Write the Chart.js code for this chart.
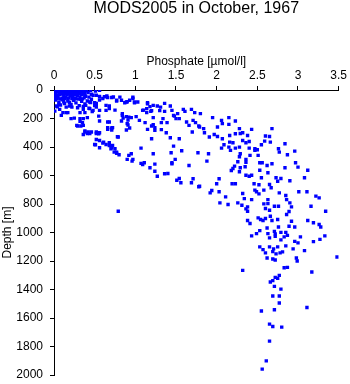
<!DOCTYPE html>
<html>
<head>
<meta charset="utf-8">
<script src="https://cdn.jsdelivr.net/npm/chart.js@4"></script>
<style>
  html, body { margin: 0; padding: 0; background: #fff; }
</style>
</head>
<body>
<canvas id="chart" width="350" height="384"></canvas>
<script>
const chartTitle = 'MODS2005 in October, 1967';
const xTitle = 'Phosphate [µmol/l]';
const yTitle = 'Depth [m]';
const xTickLabels = ['0', '0.5', '1', '1.5', '2', '2.5', '3', '3.5'];
const yTickLabels = ['0', '200', '400', '600', '800', '1000', '1200', '1400', '1600', '1800', '2000'];

// phosphate [umol/l], one value per sample
const phosphate = [
  // surface layer
  0.01,0.04,0.08,0.11,0.15,0.19,0.22,0.26,0.30,0.33,0.36,0.40,0.45,0.51,0.56,
  0.03,0.07,0.12,0.16,0.20,0.24,0.28,0.33,0.37,
  0.02,0.06,0.09,0.13,0.17,0.21,0.24,0.28,0.31,0.35,0.42,0.38,
  0.02,0.09,0.14,0.19,0.23,0.27,0.31,0.35,
  0.00,0.03,0.07,0.12,0.16,0.20,0.25,0.29,0.34,0.38,0.46,0.48,0.52,
  0.01,0.05,0.10,0.14,0.18,0.23,0.27,0.32,0.37,0.43,0.39,0.56,0.65,0.71,0.66,0.73,0.62,0.81,0.97,
  0.04,0.08,0.13,0.17,0.22,0.26,0.30,0.35,
  0.02,0.06,0.10,0.13,0.17,0.21,0.24,0.27,0.31,0.34,0.38,0.41,0.45,0.46,0.50,0.52,
  0.04,0.08,0.15,0.19,0.29,0.36,0.43,0.50,0.03,0.19,0.12,0.25,0.33,0.06,0.22,0.39,
  0.01,0.07,0.11,0.15,0.17,0.09,0.36,0.38,0.32,0.47,0.44,0.55,0.21,0.25,0.32,0.36,0.41,
  // upper nutricline
  0.56,0.52,0.60,0.77,0.83,0.89,0.93,0.97,0.99,1.03,
  0.99,0.87,0.77,0.90,1.15,1.15,1.22,1.36,0.64,0.68,
  0.68,0.56,0.48,0.52,0.44,0.64,0.75,0.84,1.09,1.14,
  1.10,1.14,1.18,1.20,0.84,0.85,0.92,0.95,1.01,0.91,
  0.89,0.83,1.05,0.66,0.56,0.68,0.71,0.90,0.93,0.91,
  1.12,1.15,1.20,1.24,1.32,1.39,1.38,
  // left branch
  0.28,0.32,0.35,0.36,0.29,0.33,0.38,0.38,0.42,0.46,
  0.52,0.55,0.44,0.41,0.52,0.56,0.36,0.66,0.72,0.66,
  0.71,0.89,0.78,0.79,0.52,0.56,0.61,0.60,0.68,0.51,
  0.50,0.64,0.68,0.72,0.56,0.71,0.70,0.75,0.77,0.74,
  0.77,0.80,0.92,0.90,0.96,0.97,0.95,1.07,1.07,1.09,
  1.11,1.18,1.22,1.24,1.24,1.27,1.36,1.40,1.44,1.45,
  1.57,1.51,1.54,1.56,1.66,1.71,1.69,1.77,1.78,0.79,
  1.43,1.47,1.49,1.45,
  // middle
  1.19,1.22,1.22,1.24,1.32,1.34,1.31,1.36,1.43,1.45,
  1.47,1.50,1.54,1.52,1.59,1.61,1.63,1.66,1.69,1.70,
  1.71,1.74,1.80,1.79,1.84,1.85,1.95,1.91,2.01,2.01,
  2.06,2.07,2.15,2.23,2.28,2.23,2.32,2.38,2.32,1.20,
  1.54,2.06,2.09,2.16,2.15,2.23,2.28,2.40,1.97,2.07,
  2.16,2.20,2.29,2.36,2.15,1.73,1.78,1.48,1.30,1.27,
  2.43,2.68,2.60,2.65,2.66,2.59,2.84,2.55,2.40,2.47,2.50,2.76,
  // deep
  1.90,2.17,2.29,2.28,2.41,2.51,2.47,2.77,2.87,2.96,
  1.88,2.26,2.36,2.36,2.53,2.56,2.68,2.62,2.97,3.00,
  2.22,2.20,2.18,2.29,2.35,2.28,2.53,2.84,3.12,2.36,
  2.40,2.43,2.63,2.55,2.73,2.79,2.75,2.90,3.08,2.03,
  2.00,2.19,2.23,2.46,2.52,2.65,2.67,1.79,1.94,1.92,
  2.03,2.11,2.32,2.47,2.49,2.58,2.52,2.77,2.85,3.01,
  3.11,3.22,3.26,2.34,2.43,2.63,2.86,2.04,2.14,2.26,
  2.31,2.38,2.36,2.38,2.58,2.63,2.60,2.65,2.71,2.76,
  2.90,2.92,2.89,3.16,3.34,2.86,2.66,2.68,2.38,2.41,
  2.51,2.54,2.57,2.60,2.75,2.92,3.12,3.19,3.26,3.28,
  2.76,2.89,2.96,2.53,2.62,2.71,2.79,2.85,2.63,2.72,2.49,
  2.43,2.65,2.72,2.79,2.83,2.87,2.96,3.00,3.03,3.19,
  3.27,3.33,2.53,2.65,2.70,2.75,2.85,2.57,2.60,2.69,
  2.73,2.78,2.81,2.94,3.08,2.62,2.69,2.72,2.98,2.99,
  3.48,2.32,2.83,2.87,3.17,2.77,2.72,2.75,2.69,2.66,
  2.71,2.79,2.69,2.77,2.77,3.11,2.71,2.55,2.65,2.69,
  2.80,2.65,2.61,2.56
];

// depth [m], same order as phosphate
const depth = [
  // surface layer
  3,6,2,5,8,3,6,2,7,4,2,5,3,7,2,
  11,12,10,13,11,12,10,13,11,
  18,22,15,20,24,16,21,18,23,15,18,24,
  27,28,26,29,27,28,26,29,
  35,40,32,38,30,41,34,39,31,42,30,37,37,
  52,48,57,50,55,47,58,51,55,50,45,46,42,53,53,49,47,50,51,
  60,62,58,63,60,61,64,62,
  70,85,68,95,78,102,72,90,110,80,98,77,88,65,89,95,
  118,105,120,88,125,115,128,110,112,112,82,62,66,100,120,108,
  148,136,159,159,159,178,136,159,159,152,131,183,201,197,201,201,194,
  // upper nutricline
  70,101,60,72,72,84,72,60,84,84,
  89,89,77,82,89,96,108,94,108,112,
  131,143,143,120,84,143,141,166,143,131,
  141,159,117,145,178,197,190,194,187,211,
  187,218,213,225,218,225,267,236,267,246,
  229,276,253,264,229,229,300,
  // left branch
  248,220,229,248,253,253,288,295,295,295,
  295,307,305,305,305,300,312,264,264,276,
  281,281,328,330,347,354,366,373,370,384,
  382,382,389,389,405,405,412,412,436,436,
  445,454,459,487,499,487,447,408,515,523,
  511,546,447,520,570,605,588,586,440,518,
  426,633,621,651,530,623,651,440,679,851,
  335,394,487,511,
  // middle
  150,194,243,283,278,201,120,150,112,143,
  178,201,201,166,136,150,225,248,136,295,
  213,229,166,260,271,300,194,330,260,326,
  213,236,194,218,271,307,300,319,354,342,
  342,408,384,366,401,408,401,361,312,342,
  319,370,305,370,241,159,253,183,145,112,
  276,271,323,326,366,359,377,384,408,412,419,412,
  // deep
  447,424,447,468,459,459,424,436,454,429,
  499,504,487,508,511,511,518,530,511,541,
  534,551,565,546,539,574,563,546,563,598,
  605,598,581,616,616,621,640,637,616,623,
  658,658,658,658,665,663,686,675,705,722,
  714,750,726,703,714,703,729,722,740,714,
  714,745,757,762,769,769,769,792,804,792,
  809,820,834,851,799,797,832,844,816,816,
  792,820,853,816,851,874,886,916,916,937,
  897,909,916,902,909,921,916,932,944,961,
  961,956,961,987,968,992,999,999,1008,1010,1008,
  1024,1038,1027,1052,1031,1020,1062,1073,1031,1064,
  1048,1024,1101,1101,1115,1101,1094,1120,1143,1134,
  1150,1143,1136,1115,1127,1179,1186,1193,1179,1200,
  1172,1266,1247,1245,1277,1301,1315,1322,1338,1347,
  1378,1397,1446,1446,1495,1526,1542,1551,1643,1660,
  1664,1762,1901,1959
];

if (phosphate.length !== depth.length) console.error('length mismatch', phosphate.length, depth.length);

const points = phosphate.map((p, i) => ({ x: p, y: depth[i] }));

const fam = '"Liberation Sans", Arial, Helvetica, sans-serif';
const labelFont = { family: fam, size: 12 };

// pick the tick label whose number matches the tick value
const labelFor = (list, v) => list.find(t => Math.abs(Number(t) - v) < 1e-6) || '';

new Chart(document.getElementById('chart'), {
  type: 'scatter',
  data: {
    datasets: [{
      data: points,
      pointStyle: 'rect',
      pointRadius: 2.4,
      pointBorderWidth: 0,
      backgroundColor: 'rgb(0,0,255)',
      borderColor: 'rgb(0,0,255)'
    }]
  },
  options: {
    responsive: false,
    animation: false,
    events: [],
    layout: { padding: { left: 0, right: 11, top: 0, bottom: 0 } },
    plugins: {
      legend: { display: false },
      tooltip: { enabled: false },
      title: {
        display: true,
        text: chartTitle,
        fullSize: false,
        color: '#000',
        font: { family: fam, size: 16, weight: 'normal', lineHeight: 1.125 },
        padding: { top: 0, bottom: 22 }
      }
    },
    scales: {
      x: {
        type: 'linear',
        position: 'top',
        min: 0,
        max: 3.5,
        afterFit: s => { s.height = 50; },
        ticks: {
          stepSize: 0.5,
          padding: 3,
          color: '#000',
          font: labelFont,
          maxRotation: 0,
          callback: v => labelFor(xTickLabels, v)
        },
        grid: { drawOnChartArea: false, tickLength: 4, color: '#000' },
        border: { display: true, color: '#000', width: 1 },
        title: {
          display: true,
          text: xTitle,
          color: '#000',
          font: labelFont,
          padding: { top: 14, bottom: 0 }
        }
      },
      y: {
        type: 'linear',
        reverse: true,
        min: 0,
        max: 2000,
        afterFit: s => { s.width = 54; s.paddingTop = 0; s.paddingBottom = 9; },
        ticks: {
          stepSize: 200,
          padding: 7,
          color: '#000',
          font: labelFont,
          callback: v => labelFor(yTickLabels, v)
        },
        grid: { drawOnChartArea: false, tickLength: 4, color: '#000' },
        border: { display: true, color: '#000', width: 1 },
        title: {
          display: true,
          text: yTitle,
          color: '#000',
          font: labelFont,
          padding: { top: 0, bottom: 0 }
        }
      }
    }
  }
});
</script>
</body>
</html>
